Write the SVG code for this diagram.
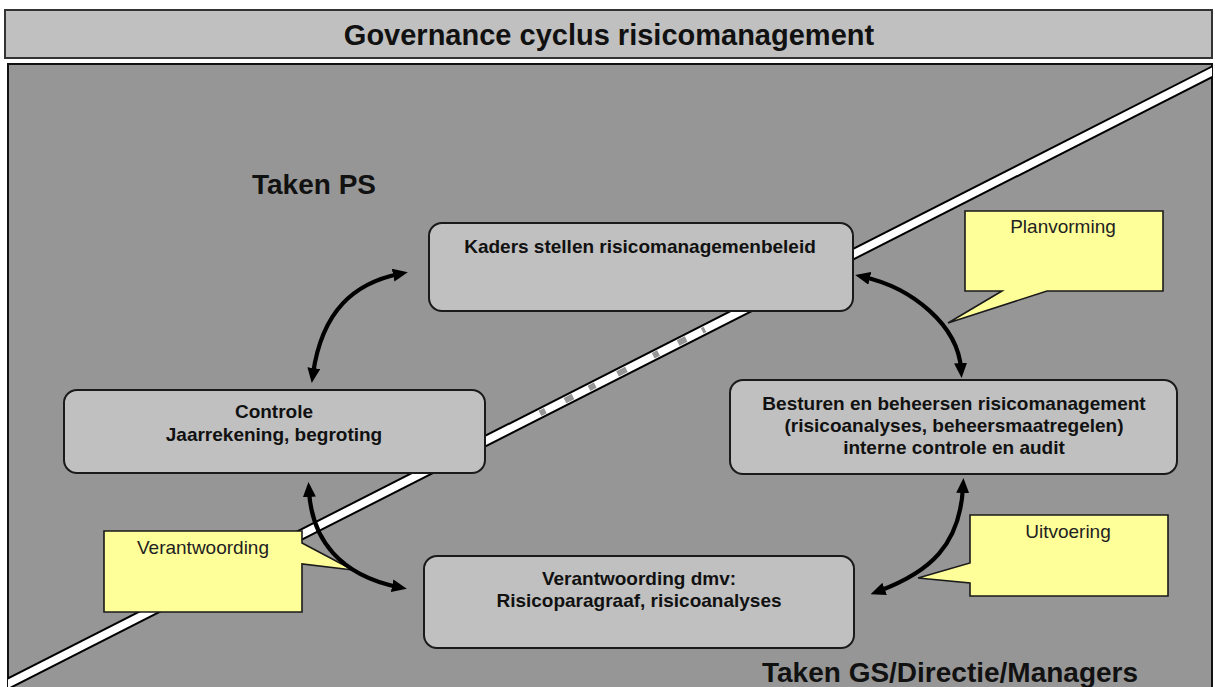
<svg xmlns="http://www.w3.org/2000/svg" width="1215" height="687" viewBox="0 0 1215 687">
<style>
.box{fill:#c0c0c0;stroke:#1a1a1a;stroke-width:2}
.call{fill:#ffff99;stroke:#1a1a1a;stroke-width:1.6;stroke-linejoin:miter}
.nt{font-family:"Liberation Sans",Arial,sans-serif;font-weight:bold;font-size:19px;fill:#111;text-anchor:middle}
.ct{font-family:"Liberation Sans",Arial,sans-serif;font-size:19px;fill:#222;text-anchor:middle}
.big{font-family:"Liberation Sans",Arial,sans-serif;font-weight:bold;font-size:28px;fill:#111}
.ttl{font-family:"Liberation Sans",Arial,sans-serif;font-weight:bold;font-size:29px;fill:#111;text-anchor:middle}
.arr{fill:none;stroke:#000;stroke-width:4.2;marker-start:url(#ah);marker-end:url(#ah)}
</style>
<defs>
<marker id="ah" markerUnits="userSpaceOnUse" markerWidth="15" markerHeight="13" refX="6" refY="6.5" orient="auto-start-reverse" viewBox="0 0 15 13">
<path d="M0,0 L15,6.5 L0,13 Z" fill="#000"/>
</marker>
<clipPath id="pc"><rect x="8" y="64" width="1204" height="623"/></clipPath>
</defs>
<rect width="1215" height="687" fill="#ffffff"/>
<g id="title">
<rect x="5" y="10" width="1207" height="48" fill="#c0c0c0" stroke="#333" stroke-width="2"/>
<text x="609" y="45" class="ttl">Governance cyclus risicomanagement</text>
</g>
<g id="panel">
<rect x="8" y="64" width="1204" height="630" fill="#969696" stroke="#111" stroke-width="2"/>
<g clip-path="url(#pc)">
<line x1="-20" y1="697.9" x2="1240" y2="57.6" stroke="#000" stroke-width="11.5"/>
<line x1="-20" y1="697.9" x2="1240" y2="57.6" stroke="#fff" stroke-width="7.5"/>
<line x1="540" y1="413.3" x2="705" y2="329.4" stroke="#969696" stroke-width="6" stroke-dasharray="6 22 9 18 7 25 10 30"/>
</g>
<text x="252" y="194" class="big">Taken PS</text>
<text x="762" y="682" class="big">Taken GS/Directie/Managers</text>
</g>
<g id="callout-verantwoording">
<path class="call" d="M104,531 H302 V543 L353,570 L302,564 V612 H104 Z"/>
<text x="203" y="554" class="ct">Verantwoording</text>
</g>
<g id="callout-planvorming">
<path class="call" d="M965,211 H1163 V291 H1047 L948,323 L1002,291 H965 Z"/>
<text x="1063" y="233" class="ct">Planvorming</text>
</g>
<g id="callout-uitvoering">
<path class="call" d="M970,515 H1168 V596 H970 V583 L918,578 L970,563 Z"/>
<text x="1068" y="538" class="ct">Uitvoering</text>
</g>
<g id="node-kaders">
<rect class="box" x="429" y="223" width="424" height="88" rx="13"/>
<text x="640" y="253" class="nt">Kaders stellen risicomanagemenbeleid</text>
</g>
<g id="node-controle">
<rect class="box" x="64" y="390" width="421" height="83" rx="13"/>
<text x="274" y="418" class="nt">Controle</text>
<text x="274" y="441" class="nt">Jaarrekening, begroting</text>
</g>
<g id="node-besturen">
<rect class="box" x="730" y="380" width="447" height="94" rx="13"/>
<text x="954" y="410" class="nt">Besturen en beheersen risicomanagement</text>
<text x="954" y="432" class="nt">(risicoanalyses, beheersmaatregelen)</text>
<text x="954" y="454" class="nt">interne controle en audit</text>
</g>
<g id="node-verantwoording">
<rect class="box" x="424" y="556" width="430" height="92" rx="13"/>
<text x="639" y="585" class="nt">Verantwoording dmv:</text>
<text x="639" y="607" class="nt">Risicoparagraaf, risicoanalyses</text>
</g>
<g id="connectors">
<path class="arr" d="M313,374 C322,310 355,283 399,274"/>
<path class="arr" d="M864,277 C912,288 958,325 961,369"/>
<path class="arr" d="M963,487 C960,545 930,572 879,591"/>
<path class="arr" d="M309,491 C312,540 340,575 398,587"/>
</g>
</svg>
